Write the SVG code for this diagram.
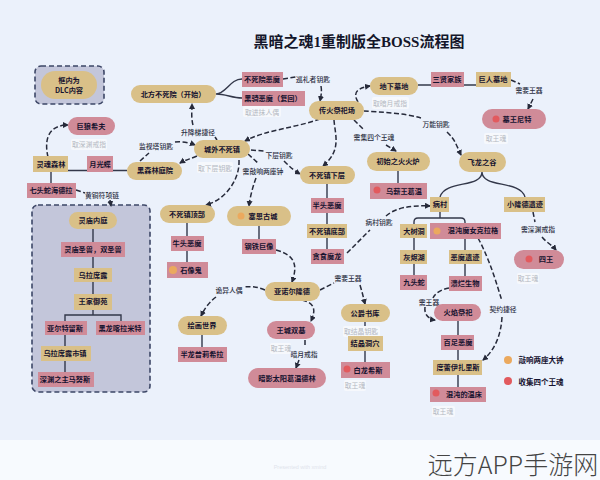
<svg xmlns="http://www.w3.org/2000/svg" width="600" height="480" viewBox="0 0 600 480">
<style>
text{font-family:"Liberation Serif","Noto Sans CJK SC",sans-serif;text-anchor:middle;dominant-baseline:central}
.t{font-size:7.2px;font-weight:700;fill:#15122f}
.l{font-size:6.8px;font-weight:500;fill:#2c2f42;font-family:"Noto Sans CJK SC",sans-serif}
.g{font-size:6.8px;fill:#b4b8c2;font-family:"Noto Sans CJK SC",sans-serif}
.t{font-family:"Noto Sans CJK SC",sans-serif}
.lg{font-size:7.500px}
.gb{fill:#f6f8fc}
.s{fill:#d9c088}
.p{fill:#d08b98}
.o{fill:#eba95e}
.r{fill:#e25a5e}
.c{fill:none;stroke:#33384a;stroke-width:1.4}
.d{fill:none;stroke:#262a3a;stroke-width:1.5;stroke-dasharray:5 2.5}
.a{marker-end:url(#ar)}
.box{fill:#c3c6da;stroke:#3d4767;stroke-width:1.6;stroke-dasharray:5 3}
</style>
<defs>
<marker id="ar" markerUnits="userSpaceOnUse" markerWidth="7" markerHeight="7" refX="5" refY="3" orient="auto"><path d="M0 0L6 3L0 6z" fill="#262a3a"/></marker>
</defs>
<rect width="600" height="480" fill="#f7fafe"/>
<rect width="600" height="440" fill="#ebf1fb"/>
<text id="title" x="359" y="42" style="font-size:15px;font-weight:700;fill:#14162a;font-family:'Liberation Serif','Noto Sans CJK SC',serif">黑暗之魂1重制版全BOSS流程图</text>
<g id="dlc-group"><rect class="box" x="32" y="205" width="118" height="187" rx="6"/></g>
<g id="connectors">
<path class="c" d="M216 94C226 94 230 79 242 79M216 94C226 94 232 98 242 98"/>
<path class="c" d="M418 85H476"/>
<path class="c" d="M68 170.500H127M51 172V183"/>
<path class="c" d="M482 172C482 188 445 180 440 197M482 172C482 188 520 180 525 197"/>
<path class="c" d="M327 184V250M398 171V183M187 223V262M259 226V239M202 335V347M365 322V362"/>
<path class="c" d="M93 229V294M93 310V315M65 321V315H121V321M65 335V372"/>
<path class="c" d="M440 212V218M414 224V222Q414 218 418 218H461Q465 218 465 222V224M414 238V275M465 239V276M458 321V387"/>
<path class="d a" d="M193 125C191 118 192 110 192 104"/>
<path class="d" d="M215 137L217 140"/>
<path class="d" d="M283 79L296 77"/>
<path class="d a" d="M321 86C322 92 321 96 320 101"/>
<path class="d a" d="M320 119C295 128 265 130 245 141"/>
<path class="d a" d="M197 156C190 159 185 160 180 163"/>
<path class="d" d="M140 161L149 153"/>
<path class="d a" d="M175 142C183 141 190 143 195 145"/>
<path class="d" d="M251 150L264 151"/>
<path class="d a" d="M284 161C289 166 293 170 300 174"/>
<path class="d" d="M248 154L259 164"/>
<path class="d a" d="M256 178C253 186 250 197 249 206"/>
<path class="d a" d="M239 160C240 180 225 200 206 205"/>
<path class="d a" d="M358 102C352 92 358 88 370 86"/>
<path class="d a" d="M334 120C335 135 342 150 323 166"/>
<path class="d" d="M364 111C380 112 405 113 421 118"/>
<path class="d a" d="M447 132C455 140 455 142 461 155"/>
<path class="d" d="M354 120L364 130"/>
<path class="d a" d="M386 145L396 151"/>
<path class="d" d="M511 80L520 84"/>
<path class="d a" d="M533 99L528 109"/>
<path class="d" d="M347 253L370 230"/>
<path class="d a" d="M386 216C395 208 410 205 430 206"/>
<path class="d" d="M76 190L85 193"/>
<path class="d a" d="M110 200L111 206"/>
<path class="d a" d="M48 157C44 140 48 125 68 125"/>
<path class="d a" d="M276 250C295 255 298 265 292 282"/>
<path class="d" d="M265 290C258 287 252 286 243 287"/>
<path class="d a" d="M216 297C208 303 204 310 201 316"/>
<path class="d a" d="M302 300C315 303 316 310 311 321"/>
<path class="d" d="M320 290L334 283"/>
<path class="d a" d="M360 285C363 295 364 300 365 304"/>
<path class="d" d="M305 340V347"/>
<path class="d a" d="M299 360L296 368"/>
<path class="d" d="M533 212L535 222"/>
<path class="d a" d="M542 237C547 243 552 245 556 250"/>
<path class="d" d="M478 238C490 260 497 285 502 301"/>
<path class="d a" d="M502 317C501 335 495 350 483 360"/>
<path class="d" d="M449 288C443 289 436 292 433 298"/>
<path class="d a" d="M425 307C424 314 428 319 435 320"/>
</g>
<g id="legend-dlc"><rect class="box" x="35" y="66" width="69" height="38" rx="6"/><rect class="s" x="41" y="71" width="56" height="28" rx="14"/><text class="t" x="69" y="80">框内为</text><text class="t" x="69" y="90">DLC内容</text></g>
<g id="n1"><rect class="s" x="131" y="85" width="85" height="18" rx="9"/><text class="t" x="173" y="94">北方不死院（开始）</text></g>
<g id="n2"><rect class="p" x="242" y="72" width="41" height="15"/><text class="t" x="262" y="79">不死院恶魔</text></g>
<g id="n3"><rect class="p" x="242" y="91" width="63" height="15"/><text class="t" x="273" y="98">黑骑恶魔（复回）</text></g>
<g id="n4"><rect class="gb" x="243" y="106" width="38" height="11" rx="2"/><text class="g" x="262" y="112">取进抹人偶</text></g>
<g id="n5"><rect class="p" x="68" y="117" width="47" height="18" rx="9"/><text class="t" x="91" y="126">巨狼希夫</text></g>
<g id="n6"><rect class="gb" x="71" y="139" width="36" height="11" rx="2"/><text class="g" x="89" y="144">取深渊戒指</text></g>
<g id="n7"><rect class="s" x="33" y="156" width="35" height="16"/><text class="t" x="51" y="164">灵魂森林</text></g>
<g id="n8"><rect class="p" x="87" y="156" width="26" height="16"/><text class="t" x="100" y="164">月光蝶</text></g>
<g id="n9"><rect class="s" x="127" y="162" width="55" height="18" rx="9"/><text class="t" x="155" y="170">黑森林庭院</text></g>
<g id="n10"><rect class="s" x="194" y="140" width="56" height="18" rx="9"/><text class="t" x="222" y="149">城外不死镇</text></g>
<g id="n11"><rect class="gb" x="197" y="162" width="36" height="11" rx="2"/><text class="g" x="215" y="168">取下层钥匙</text></g>
<g id="n12"><rect class="p" x="27" y="183" width="49" height="15"/><text class="t" x="51" y="190">七头蛇海德拉</text></g>
<g id="labels">
<text class="l" x="102" y="195">黄铜符项链</text>
<text class="l" x="198" y="132">升降梯捷径</text>
<text class="l" x="156" y="146">监视塔钥匙</text>
<text class="l" x="279" y="155">下层钥匙</text>
<text class="l" x="263" y="171">需敲响两座钟</text>
<text class="l" x="313" y="79">巡礼者钥匙</text>
<text class="l" x="436" y="124">万能钥匙</text>
<text class="l" x="374" y="137">需集四个王魂</text>
<text class="l" x="529" y="90">需要王器</text>
<text class="l" x="229" y="290">诡异人偶</text>
<text class="l" x="348" y="278">需要王器</text>
<text class="l" x="379" y="222">病村钥匙</text>
<text class="l" x="304" y="354">暗月戒指</text>
<text class="l" x="538" y="229">需深渊戒指</text>
<text class="l" x="503" y="309">契约捷径</text>
<text class="l" x="429" y="302">需王器</text>
</g>
<g id="n13"><rect class="s" x="160" y="205" width="55" height="18" rx="9"/><text class="t" x="187" y="214">不死镇顶部</text></g>
<g id="n14"><rect class="p" x="171" y="236" width="33" height="15"/><text class="t" x="187" y="243">牛头恶魔</text></g>
<g id="n15"><rect class="p" x="167" y="262" width="41" height="16"/><circle class="o" cx="173" cy="270" r="4"/><text class="t" x="191" y="270">石像鬼</text></g>
<g id="n16"><rect class="s" x="227" y="206" width="64" height="20" rx="10"/><circle class="o" cx="241" cy="216" r="3.500"/><text class="t" x="263" y="216">塞恩古城</text></g>
<g id="n17"><rect class="p" x="242" y="239" width="34" height="15"/><text class="t" x="259" y="246">钢铁巨像</text></g>
<g id="n18"><rect class="s" x="265" y="282" width="55" height="19" rx="9.500"/><text class="t" x="292" y="291">亚诺尔隆德</text></g>
<g id="n19"><rect class="s" x="178" y="316" width="49" height="19" rx="9.500"/><text class="t" x="202" y="325">绘画世界</text></g>
<g id="n20"><rect class="p" x="178" y="347" width="49" height="15"/><text class="t" x="202" y="354">半龙普莉希拉</text></g>
<g id="n21"><rect class="p" x="267" y="321" width="48" height="18" rx="9"/><text class="t" x="291" y="330">王城双基</text></g>
<g id="n22"><rect class="gb" x="270" y="343" width="21" height="11" rx="2"/><text class="g" x="281" y="348">取王魂</text></g>
<g id="n23"><rect class="p" x="248" y="368" width="78" height="20" rx="10"/><text class="t" x="287" y="378">暗影太阳葛温德林</text></g>
<g id="n24"><rect class="s" x="341" y="304" width="49" height="18" rx="9"/><text class="t" x="365" y="313">公爵书库</text></g>
<g id="n25"><rect class="gb" x="343" y="326" width="37" height="11" rx="2"/><text class="g" x="361" y="331">取结晶钥匙</text></g>
<g id="n26"><rect class="s" x="348" y="336" width="35" height="15"/><text class="t" x="365" y="343">结晶洞穴</text></g>
<g id="n27"><rect class="p" x="341" y="362" width="49" height="16"/><circle class="r" cx="347" cy="369" r="3.500"/><text class="t" x="368" y="370">白龙希斯</text></g>
<g id="n28"><rect class="gb" x="344" y="380" width="22" height="11" rx="2"/><text class="g" x="355" y="385">取王魂</text></g>
<g id="n29"><rect class="p" x="311" y="198" width="33" height="15"/><text class="t" x="327" y="205">半头恶魔</text></g>
<g id="n30"><rect class="s" x="307" y="224" width="40" height="14"/><text class="t" x="327" y="231">不死镇底部</text></g>
<g id="n31"><rect class="p" x="311" y="249" width="33" height="15"/><text class="t" x="327" y="256">贪食魔龙</text></g>
<g id="n32"><rect class="s" x="300" y="166" width="55" height="18" rx="9"/><text class="t" x="327" y="175">不死镇下层</text></g>
<g id="n33"><rect class="s" x="309" y="101" width="55" height="19" rx="9.500"/><text class="t" x="337" y="110">传火祭祀场</text></g>
<g id="n34"><rect class="s" x="370" y="77" width="48" height="18" rx="9"/><text class="t" x="394" y="86">地下墓地</text></g>
<g id="n35"><rect class="gb" x="372" y="97" width="37" height="12" rx="2"/><text class="g" x="390" y="103">取暗月戒指</text></g>
<g id="n36"><rect class="p" x="431" y="72" width="33" height="15"/><text class="t" x="447" y="79">三贤家族</text></g>
<g id="n37"><rect class="s" x="476" y="72" width="35" height="15"/><text class="t" x="493" y="79">巨人墓地</text></g>
<g id="n38"><rect class="p" x="482" y="109" width="64" height="20" rx="10"/><circle class="r" cx="496" cy="119" r="3.500"/><text class="t" x="517" y="119">墓王尼特</text></g>
<g id="n39"><rect class="gb" x="484" y="133" width="24" height="11" rx="2"/><text class="g" x="496" y="138">取王魂</text></g>
<g id="n40"><rect class="s" x="367" y="152" width="63" height="19" rx="9.500"/><text class="t" x="398" y="161">初始之火火炉</text></g>
<g id="n41"><rect class="p" x="370" y="183" width="57" height="16"/><circle class="r" cx="377" cy="190" r="3.500"/><text class="t" x="404" y="191">乌薪王葛温</text></g>
<g id="n42"><rect class="s" x="459" y="152" width="47" height="20" rx="10"/><text class="t" x="482" y="162">飞龙之谷</text></g>
<g id="n43"><rect class="s" x="430" y="197" width="19" height="15"/><text class="t" x="440" y="204">病村</text></g>
<g id="n44"><rect class="s" x="504" y="197" width="41" height="15"/><text class="t" x="525" y="204">小隆德遗迹</text></g>
<g id="n45"><rect class="s" x="400" y="224" width="27" height="14"/><text class="t" x="414" y="231">大树洞</text></g>
<g id="n46"><rect class="p" x="430" y="223" width="71" height="16"/><circle class="o" cx="437" cy="231" r="3.500"/><text class="t" x="473" y="230">混沌魔女克拉格</text></g>
<g id="n47"><rect class="s" x="400" y="250" width="27" height="14"/><text class="t" x="414" y="257">灰烬湖</text></g>
<g id="n48"><rect class="s" x="449" y="250" width="33" height="14"/><text class="t" x="465" y="257">恶魔遗迹</text></g>
<g id="n49"><rect class="p" x="400" y="275" width="27" height="15"/><text class="t" x="414" y="282">九头蛇</text></g>
<g id="n50"><rect class="p" x="449" y="276" width="33" height="15"/><text class="t" x="465" y="283">溃烂生物</text></g>
<g id="n51"><rect class="p" x="434" y="304" width="47" height="17" rx="8.500"/><text class="t" x="458" y="312">火焰祭祀</text></g>
<g id="n52"><rect class="p" x="441" y="335" width="33" height="15"/><text class="t" x="458" y="342">百足恶魔</text></g>
<g id="n53"><rect class="s" x="433" y="360" width="49" height="15"/><text class="t" x="458" y="367">度蕾伊扎里斯</text></g>
<g id="n54"><rect class="p" x="430" y="387" width="56" height="15"/><circle class="r" cx="436" cy="393" r="3.500"/><text class="t" x="464" y="394">混沌的温床</text></g>
<g id="n55"><rect class="gb" x="432" y="406" width="23" height="11" rx="2"/><text class="g" x="443" y="411">取王魂</text></g>
<g id="n56"><rect class="p" x="514" y="250" width="50" height="19" rx="9.500"/><circle class="r" cx="529" cy="259" r="3.500"/><text class="t" x="546" y="259">四王</text></g>
<g id="n57"><rect class="gb" x="517" y="273" width="22" height="11" rx="2"/><text class="g" x="528" y="278">取王魂</text></g>
<g id="d1"><rect class="s" x="69" y="212" width="48" height="17" rx="8.500"/><text class="t" x="93" y="220">灵庙内庭</text></g>
<g id="d2"><rect class="p" x="61" y="242" width="64" height="15"/><text class="t" x="93" y="249">灵庙圣兽，双圣兽</text></g>
<g id="d3"><rect class="s" x="74" y="268" width="38" height="14"/><text class="t" x="93" y="275">乌拉席露</text></g>
<g id="d4"><rect class="s" x="74" y="294" width="38" height="16"/><text class="t" x="93" y="301">王家御苑</text></g>
<g id="d5"><rect class="p" x="45" y="321" width="42" height="14"/><text class="t" x="65" y="328">亚尔特留斯</text></g>
<g id="d6"><rect class="p" x="96" y="321" width="49" height="14"/><text class="t" x="120" y="328">黑龙喀拉米特</text></g>
<g id="d7"><rect class="s" x="41" y="346" width="50" height="15"/><text class="t" x="65" y="353">乌拉席露市镇</text></g>
<g id="d8"><rect class="p" x="38" y="372" width="56" height="15"/><text class="t" x="65" y="379">深渊之主马努斯</text></g>
<g id="legend"><circle class="o" cx="508" cy="360" r="4"/><text class="t lg" x="541" y="359">敲响两座大钟</text><circle class="r" cx="508" cy="381" r="4"/><text class="t lg" x="541" y="381">收集四个王魂</text></g>
<text x="300" y="467" style="font-size:5.500px;fill:#dfe4ec;font-family:'Liberation Sans',sans-serif">Presented with xmind</text>
<text x="513" y="463" style="font-size:25px;font-weight:300;fill:#444;font-family:'Noto Sans CJK SC',sans-serif">远方APP手游网</text>
</svg>
